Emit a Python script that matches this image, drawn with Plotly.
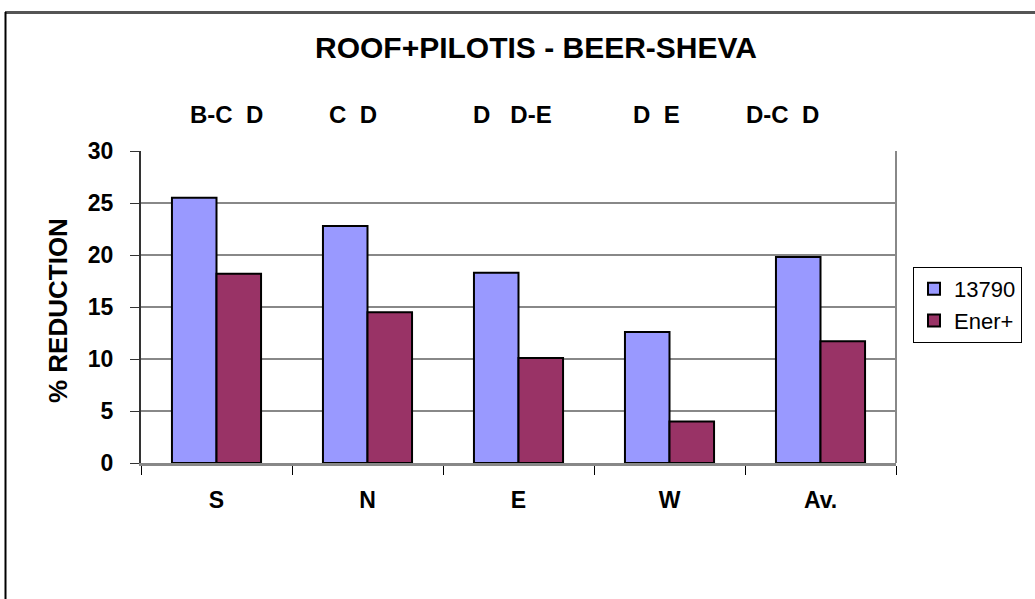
import plotly.graph_objects as go

# Data
directions = ["S", "N", "E", "W", "Av."]
red_13790 = [25.5, 22.8, 18.3, 12.6, 19.8]
red_ener = [18.2, 14.5, 10.1, 4.0, 11.7]
group_labels = ["B-C\u00a0\u00a0D", "C\u00a0\u00a0D", "D\u00a0\u00a0\u00a0D-E", "D\u00a0\u00a0E", "D-C\u00a0\u00a0D"]
label_shift = [0.063, -0.093, -0.043, -0.089, -0.255]

W, H = 1035, 599
L, R, T, B = 141, 139, 151, 136
pw, ph = W - L - R, H - T - B

def px_x(x):
    return (x - L) / pw

def px_y(y):
    return (H - B - y) / ph

fig = go.Figure()
fig.add_trace(go.Bar(x=directions, y=red_13790, name="13790",
                     marker=dict(color="#9999FF", line=dict(color="black", width=2))))
fig.add_trace(go.Bar(x=directions, y=red_ener, name="Ener+",
                     marker=dict(color="#993366", line=dict(color="black", width=2))))

ann = []
for i, (lab, dx) in enumerate(zip(group_labels, label_shift)):
    ann.append(dict(x=i + dx, y=px_y(115), xref="x", yref="paper", text="<b>%s</b>" % lab,
                    xanchor="center", yanchor="middle", showarrow=False,
                    font=dict(size=24, color="black", family="Liberation Sans")))
ann.append(dict(x=px_x(58), y=px_y(311), xref="paper", yref="paper", text="<b>% REDUCTION</b>",
                xanchor="center", yanchor="middle", textangle=-90, showarrow=False,
                font=dict(size=26, color="black", family="Liberation Sans")))

fig.update_layout(
    width=W, height=H,
    margin=dict(l=L, r=R, t=T, b=B, pad=0),
    paper_bgcolor="white", plot_bgcolor="white",
    title=dict(text="<b>ROOF+PILOTIS - BEER-SHEVA</b>", x=536 / W, y=1 - 47 / H,
               xanchor="center", yanchor="middle",
               font=dict(size=30, color="black", family="Liberation Sans")),
    barmode="group", bargap=0.41, bargroupgap=0,
    legend=dict(x=px_x(913), y=px_y(267), xanchor="left", yanchor="top",
                bordercolor="black", borderwidth=1, bgcolor="white",
                font=dict(size=22, color="black", family="Liberation Sans"),
                itemwidth=30, tracegroupgap=0),
    annotations=ann,
    shapes=[
        dict(type="line", xref="paper", yref="paper", x0=px_x(5), x1=px_x(1040),
             y0=px_y(12.5), y1=px_y(12.5), line=dict(color="#555555", width=3)),
        dict(type="line", xref="paper", yref="paper", x0=px_x(5.5), x1=px_x(5.5),
             y0=px_y(12), y1=px_y(610), line=dict(color="black", width=2)),
        dict(type="line", xref="paper", yref="paper", x0=1, x1=1, y0=0, y1=1,
             line=dict(color="#888888", width=2)),
    ],
)
fig.update_xaxes(type="category", range=[-0.5, 4.5], showgrid=False,
                 showline=True, linecolor="#888888", linewidth=3,
                 ticks="outside", tickson="boundaries", ticklen=9, tickcolor="black", tickwidth=1,
                 ticklabelstandoff=14,
                 tickfont=dict(size=23, color="black", family="Liberation Sans"),
                 tickprefix="<b>", ticksuffix="</b>")
fig.update_yaxes(range=[0, 30], dtick=5, showgrid=True, gridcolor="#888888", gridwidth=2,
                 showline=True, linecolor="#333333", linewidth=2, zeroline=False,
                 ticks="outside", ticklen=9, tickcolor="#333333", tickwidth=1,
                 ticklabelstandoff=12,
                 tickfont=dict(size=23, color="black", family="Liberation Sans"),
                 tickprefix="<b>", ticksuffix="</b>")

# drop the default 8px page margin so the figure sits at the window origin
fig.write_html("out.html", config={"displayModeBar": False},
               post_script="document.body.style.margin='0px';")
